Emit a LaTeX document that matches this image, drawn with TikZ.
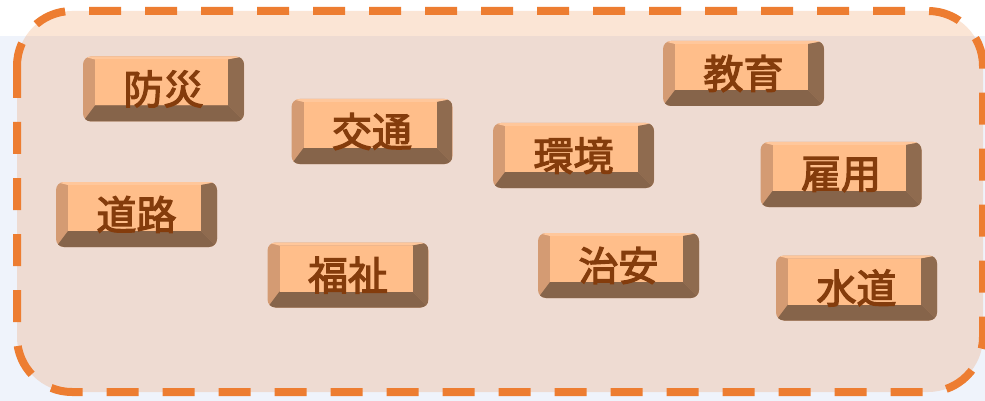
\documentclass[tikz,border=0pt]{standalone}
\usepackage{fontspec}
\newfontfamily\cjk{Noto Sans CJK JP}[FakeBold=3]
\definecolor{dashor}{HTML}{ED7D31}
\definecolor{bgblue}{HTML}{EFF3FB}
\definecolor{bface}{HTML}{FFBE8A}
\definecolor{btop}{HTML}{FFC79B}
\definecolor{bleft}{HTML}{D49B73}
\definecolor{bright}{HTML}{8F6B4F}
\definecolor{bbottom}{HTML}{86644A}
\definecolor{btxt}{HTML}{843C0C}
\begin{document}
\begin{tikzpicture}[x=1pt,y=-1pt,
  btn/.style={minimum width=161pt, minimum height=65pt, rounded corners=8pt,
    fill=bleft, inner sep=0pt, text=btxt,
    font=\cjk\fontsize{40}{40}\selectfont,
    path picture={
      \begin{scope}[sharp corners]
      \fill[btop] (path picture bounding box.north west) -- (path picture bounding box.north east)
        -- ([xshift=-16pt,yshift=-3pt]path picture bounding box.north east)
        -- ([xshift=12pt,yshift=-3pt]path picture bounding box.north west) -- cycle;
      \fill[bright] (path picture bounding box.north east) -- (path picture bounding box.south east)
        -- ([xshift=-16pt,yshift=16pt]path picture bounding box.south east)
        -- ([xshift=-16pt,yshift=-3pt]path picture bounding box.north east) -- cycle;
      \fill[bbottom] (path picture bounding box.south west) -- (path picture bounding box.south east)
        -- ([xshift=-16pt,yshift=16pt]path picture bounding box.south east)
        -- ([xshift=12pt,yshift=16pt]path picture bounding box.south west) -- cycle;
      \fill[bface] ([xshift=12pt,yshift=-3pt]path picture bounding box.north west)
        rectangle ([xshift=-16pt,yshift=16pt]path picture bounding box.south east);
      \end{scope}
    }}]
\path[use as bounding box] (0,0) rectangle (985,401);
\fill[white] (0,0) rectangle (985,36);
\fill[bgblue] (0,36) rectangle (985,401);
\draw[dashor, line width=8pt, dash pattern=on 32pt off 24pt, fill=dashor, fill opacity=0.2,
  rounded corners=55pt] (17,11) rectangle (983,392);
\node[btn] (bosai)   at (163.5,89)  {\raisebox{2.5pt}{防災}};
\node[btn] (kotsu)   at (372,131.5) {\raisebox{2.5pt}{交通}};
\node[btn] (kankyo)  at (573.5,155.5) {\raisebox{2.5pt}{環境}};
\node[btn] (kyoiku)  at (743.5,73.5) {\raisebox{2.5pt}{教育}};
\node[btn] (doro)    at (136.5,214.5) {\raisebox{2.5pt}{道路}};
\node[btn] (fukushi) at (348,275)   {\raisebox{2.5pt}{福祉}};
\node[btn] (chian)   at (618.5,265.5) {\raisebox{2.5pt}{治安}};
\node[btn] (koyo)    at (841,174.5) {\raisebox{2.5pt}{雇用}};
\node[btn] (suido)   at (856.5,288) {\raisebox{2.5pt}{水道}};
\end{tikzpicture}
\end{document}
